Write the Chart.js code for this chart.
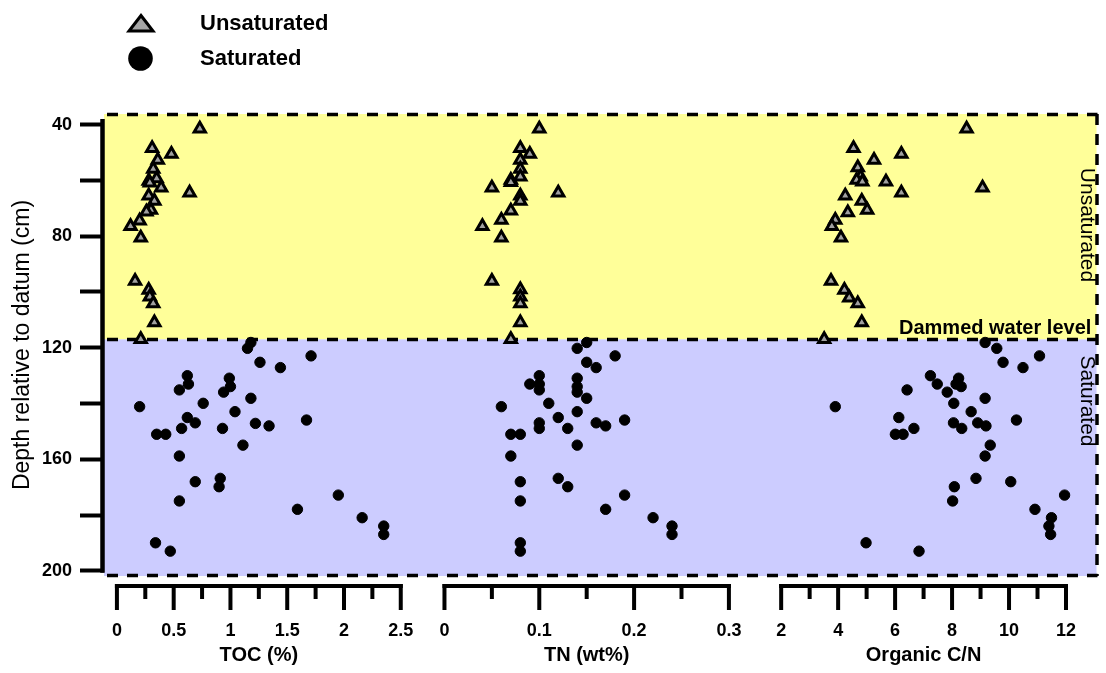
<!DOCTYPE html>
<html><head><meta charset="utf-8">
<script src="https://cdn.jsdelivr.net/npm/chart.js@4.4.1/dist/chart.umd.min.js"></script>
<style>html,body{margin:0;padding:0;background:#fff;}#wrap{width:1106px;height:673px;}</style>
</head><body><div id="wrap"><canvas id="c" width="1106" height="673"></canvas></div>
<script>
// ---------- data ----------
const tocUnsatDepth = [41.5,48.5,50.5,52.7,55.9,59.3,60.2,60.8,62.6,64.4,65.5,67.4,70.6,71.2,74.5,76.4,80.6,96.1,99.3,101.7,104.1,110.9,116.9];
const tocUnsat      = [0.73,0.31,0.48,0.36,0.32,0.35,0.28,0.29,0.39,0.64,0.28,0.33,0.30,0.26,0.20,0.12,0.21,0.16,0.28,0.29,0.32,0.33,0.21];
const tnUnsatDepth  = [41.5,48.5,50.5,52.7,55.9,58.7,59.9,60.7,62.6,64.4,65.5,67.4,70.9,74.2,76.4,80.6,96.1,99.1,101.7,104.1,110.9,116.9];
const tnUnsat       = [0.10,0.08,0.09,0.08,0.08,0.08,0.07,0.07,0.05,0.12,0.08,0.08,0.07,0.06,0.04,0.06,0.05,0.08,0.08,0.08,0.08,0.07];
const cnUnsatDepth  = [41.5,48.5,50.5,52.7,55.4,58.7,59.9,60.5,60.5,62.6,64.4,65.5,67.4,70.6,71.5,74.2,76.4,80.6,96.1,99.3,102.1,104.1,110.9,116.9];
const cnUnsat       = [8.51,4.54,6.22,5.26,4.69,4.79,4.65,4.85,5.68,9.07,6.22,4.25,4.83,5.02,4.34,3.90,3.78,4.10,3.75,4.22,4.39,4.69,4.83,3.51];

const tocSatDepth = [118.1,120.2,122.9,125.2,127.1,130.0,130.9,133.0,133.9,135.1,135.9,138.1,139.9,141.1,142.9,145.0,146.9,147.1,148.0,145.9,148.9,148.9,151.0,151.0,154.9,158.8,166.8,168.0,169.8,174.9,172.8,177.9,180.9,183.9,186.9,189.9,192.9];
const tocSat      = [1.18,1.15,1.71,1.26,1.44,0.62,0.99,0.63,1.00,0.55,0.94,1.18,0.76,0.20,1.04,0.62,0.69,1.22,1.34,1.67,0.57,0.93,0.35,0.43,1.11,0.55,0.91,0.69,0.90,0.55,1.95,1.59,2.16,2.35,2.35,0.34,0.47];
const tnSatDepth  = [118.1,120.2,122.9,125.2,127.1,130.0,130.9,133.0,133.0,133.9,135.1,135.9,138.1,141.1,139.9,142.9,145.0,146.9,148.9,146.9,148.0,145.9,148.9,151.0,151.0,154.9,158.8,166.8,168.0,169.8,174.9,172.8,177.9,180.9,183.9,186.9,189.9,192.9];
const tnSat       = [0.15,0.14,0.18,0.15,0.16,0.10,0.14,0.09,0.10,0.14,0.10,0.14,0.15,0.06,0.11,0.14,0.12,0.10,0.10,0.16,0.17,0.19,0.13,0.07,0.08,0.14,0.07,0.12,0.08,0.13,0.08,0.19,0.17,0.22,0.24,0.24,0.08,0.08];
const cnSatDepth  = [118.1,120.2,122.9,125.2,127.1,130.0,130.9,133.0,133.9,133.0,135.1,135.9,138.1,139.9,141.1,142.9,145.0,145.9,146.9,146.9,148.0,148.9,148.9,151.0,151.0,154.9,158.8,166.8,169.8,168.0,174.9,172.8,177.9,180.9,183.9,186.9,189.9,192.9];
const cnSat       = [9.16,9.57,11.07,9.79,10.49,7.24,8.23,7.48,8.32,8.14,6.42,7.83,9.16,8.06,3.90,8.67,6.13,10.26,8.05,8.90,9.19,8.34,6.66,6.01,6.28,9.34,9.16,8.84,8.08,10.06,8.02,11.95,10.91,11.49,11.40,11.46,4.98,6.84];

const depthTicks  = [40,60,80,100,120,140,160,180,200];
const depthLabels = [40,80,120,160,200];
const tocTicks = [0,0.5,1,1.5,2,2.5];   const tocMinor = [0.25,0.75,1.25,1.75,2.25];
const tnTicks  = [0,0.1,0.2,0.3];       const tnMinor  = [0.05,0.15,0.25];
const cnTicks  = [2,4,6,8,10,12];       const cnMinor  = [3,5,7,9,11];
const waterLevel = 117;
const depthTop = 36.2, depthBottom = 201.8;

// ---------- layout ----------
const W = 1106, H = 673;
const AREA = {left:104, right:1103, top:114, bottom:576};
function pxRange(v0,p0,v1,p1){const k=(p1-p0)/(v1-v0);return {min:v0-(p0-AREA.left)/k,max:v1+(AREA.right-p1)/k};}
const tocR = pxRange(0,117,2.5,402.7);
const tnR  = pxRange(0,446.7,0.3,733);
const cnR  = pxRange(2,785.6,12,1072.3);
const FONT = "'Liberation Sans', Arial, Helvetica, sans-serif";
Chart.defaults.font.family = FONT;
Chart.defaults.color = '#000';

function pts(vals, depths){ return vals.map((v,i)=>({x:v,y:depths[i]})); }
const triStyle = {pointStyle:'triangle', pointRadius:6.5, pointHoverRadius:6.5, backgroundColor:'#a0a0a0', borderColor:'#000', borderWidth:3, showLine:false};
const dotStyle = {pointStyle:'circle', pointRadius:5.2, pointHoverRadius:5.2, backgroundColor:'#000', borderColor:'#000', borderWidth:1, showLine:false};

const decoPlugin = {
  id:'deco',
  beforeDatasetsDraw(chart){
    const {ctx, chartArea:a, scales:{y}} = chart;
    const wy = y.getPixelForValue(waterLevel);
    ctx.save();
    ctx.fillStyle = '#ffff99'; ctx.fillRect(a.left, a.top, a.right-a.left, wy-a.top);
    ctx.fillStyle = '#ccccff'; ctx.fillRect(a.left, wy, a.right-a.left, a.bottom-wy);
    ctx.strokeStyle = '#000'; ctx.lineWidth = 3.5; ctx.setLineDash([11,9]);
    [a.top+0.5, wy, a.bottom-0.5].forEach(yy=>{ctx.beginPath();ctx.moveTo(a.left+3,yy);ctx.lineTo(a.right+1,yy);ctx.stroke();});
    ctx.beginPath(); ctx.moveTo(a.right+0.5, a.top); ctx.lineTo(a.right+0.5, a.bottom); ctx.stroke();
    ctx.setLineDash([]);
    // y axis line
    ctx.lineWidth = 4.5; ctx.beginPath();
    ctx.moveTo(102.5, y.getPixelForValue(38)); ctx.lineTo(102.5, y.getPixelForValue(200.6)); ctx.stroke();
    // texts in the plot
    ctx.fillStyle = '#000';
    ctx.font = 'bold 20px ' + FONT; ctx.textAlign = 'left'; ctx.textBaseline = 'alphabetic';
    ctx.fillText('Dammed water level', 899, wy - 5);
    ctx.font = '21px ' + FONT; ctx.textAlign = 'center'; ctx.textBaseline = 'middle';
    ctx.save(); ctx.translate(1087, 225); ctx.rotate(Math.PI/2); ctx.fillText('Unsaturated', 0, 0); ctx.restore();
    ctx.save(); ctx.translate(1087, 401); ctx.rotate(Math.PI/2); ctx.fillText('Saturated', 0, 0); ctx.restore();
    ctx.restore();
  },
  afterDraw(chart){
    const ctx = chart.ctx;
    ctx.save();
    function bracket(scale, major, minor, title){
      const yl = 586;
      const x0 = scale.getPixelForValue(major[0]), x1 = scale.getPixelForValue(major[major.length-1]);
      ctx.strokeStyle = '#000'; ctx.lineWidth = 4; ctx.lineCap = 'butt';
      ctx.beginPath(); ctx.moveTo(x0-2, yl); ctx.lineTo(x1+2, yl); ctx.stroke();
      major.forEach(v=>{const x=scale.getPixelForValue(v);ctx.beginPath();ctx.moveTo(x,yl-2);ctx.lineTo(x,yl+24);ctx.stroke();});
      minor.forEach(v=>{const x=scale.getPixelForValue(v);ctx.beginPath();ctx.moveTo(x,yl-2);ctx.lineTo(x,yl+13);ctx.stroke();});
      ctx.fillStyle = '#000'; ctx.textAlign = 'center'; ctx.textBaseline = 'middle';
      ctx.font = 'bold 18px ' + FONT;
      major.forEach(v=>ctx.fillText(String(v), scale.getPixelForValue(v), 631));
      ctx.font = 'bold 20px ' + FONT;
      ctx.fillText(title, (x0+x1)/2, 655);
    }
    bracket(chart.scales.xToc, tocTicks, tocMinor, 'TOC (%)');
    bracket(chart.scales.xTn, tnTicks, tnMinor, 'TN (wt%)');
    bracket(chart.scales.xCn, cnTicks, cnMinor, 'Organic C/N');
    // legend
    ctx.lineJoin = 'miter';
    ctx.fillStyle = '#a6a6a6'; ctx.strokeStyle = '#000'; ctx.lineWidth = 3;
    ctx.beginPath(); ctx.moveTo(141, 15.5); ctx.lineTo(153, 31); ctx.lineTo(129, 31); ctx.closePath(); ctx.fill(); ctx.stroke();
    ctx.fillStyle = '#000';
    ctx.beginPath(); ctx.arc(140.5, 58.5, 12.3, 0, Math.PI*2); ctx.fill();
    ctx.font = 'bold 22px ' + FONT; ctx.textAlign = 'left'; ctx.textBaseline = 'alphabetic';
    ctx.fillText('Unsaturated', 200, 30);
    ctx.fillText('Saturated', 200, 65);
    ctx.restore();
  }
};

new Chart(document.getElementById('c'), {
  type:'scatter',
  data:{datasets:[
    Object.assign({label:'Saturated TOC', xAxisID:'xToc', data:pts(tocSat,tocSatDepth)}, dotStyle),
    Object.assign({label:'Saturated TN', xAxisID:'xTn', data:pts(tnSat,tnSatDepth)}, dotStyle),
    Object.assign({label:'Saturated C/N', xAxisID:'xCn', data:pts(cnSat,cnSatDepth)}, dotStyle),
    Object.assign({label:'Unsaturated TOC', xAxisID:'xToc', data:pts(tocUnsat,tocUnsatDepth)}, triStyle),
    Object.assign({label:'Unsaturated TN', xAxisID:'xTn', data:pts(tnUnsat,tnUnsatDepth)}, triStyle),
    Object.assign({label:'Unsaturated C/N', xAxisID:'xCn', data:pts(cnUnsat,cnUnsatDepth)}, triStyle)
  ]},
  options:{
    responsive:false, animation:false, devicePixelRatio:1,
    layout:{padding:{left:0, right:W-AREA.right, top:AREA.top, bottom:H-AREA.bottom}},
    plugins:{legend:{display:false}, tooltip:{enabled:false}},
    scales:{
      xToc:{type:'linear', position:'bottom', display:false, min:tocR.min, max:tocR.max},
      xTn:{type:'linear', position:'bottom', display:false, min:tnR.min, max:tnR.max},
      xCn:{type:'linear', position:'bottom', display:false, min:cnR.min, max:cnR.max},
      y:{type:'linear', position:'left', reverse:true, min:depthTop, max:depthBottom,
        afterFit(s){ s.width = AREA.left; },
        afterBuildTicks(s){ s.ticks = depthTicks.map(v=>({value:v})); },
        ticks:{callback:(v)=>depthLabels.includes(v)?String(v):'', autoSkip:false, padding:8,
               font:{family:FONT, size:18, weight:'bold'}, color:'#000'},
        grid:{drawOnChartArea:false, drawTicks:true, tickLength:24, tickWidth:4, tickColor:'#000'},
        border:{display:false},
        title:{display:true, text:'Depth relative to datum (cm)', color:'#000',
               font:{family:FONT, size:23}, padding:{top:9, bottom:0}}
      }
    }
  },
  plugins:[decoPlugin]
});
</script>
</body></html>
